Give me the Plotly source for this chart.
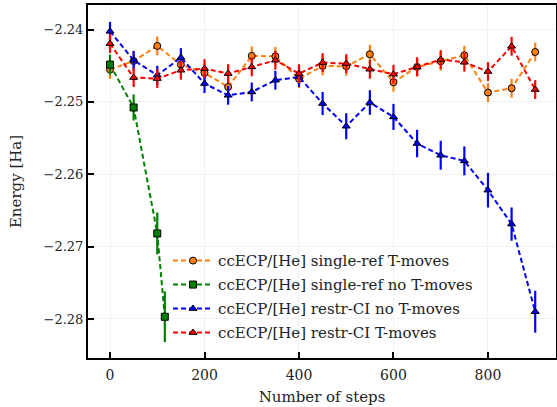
import plotly.graph_objects as go

# Steps
steps = [0, 50, 100, 150, 200, 250, 300, 350, 400, 450,
         500, 550, 600, 650, 700, 750, 800, 850, 900]
steps_noT = [0, 50, 100, 116]

# single-ref T-moves
e_sr_T = [-2.24553, -2.24434, -2.24226, -2.24484, -2.24599, -2.24793, -2.24364,
          -2.24369, -2.24680, -2.24503, -2.24507, -2.24341, -2.24728, -2.24516,
          -2.24438, -2.24355, -2.24870, -2.24811, -2.24309]
err_sr_T = [0.0013] * 19

# single-ref no T-moves
e_sr_noT = [-2.24484, -2.25077, -2.26818, -2.27970]
err_sr_noT = [0.0014, 0.0018, 0.0029, 0.0035]

# restr-CI no T-moves
e_ci_noT = [-2.24024, -2.24424, -2.24631, -2.24387, -2.24746, -2.24908, -2.24862,
            -2.24700, -2.24655, -2.25022, -2.25336, -2.25008, -2.25207, -2.25575,
            -2.25737, -2.25815, -2.26220, -2.26689, -2.27900]
err_ci_noT = [0.0013, 0.0013, 0.0013, 0.0013, 0.0013, 0.0013, 0.0013, 0.0013,
              0.0014, 0.0016, 0.0018, 0.0017, 0.0018, 0.0019, 0.0020, 0.0020,
              0.0024, 0.0023, 0.0029]

# restr-CI T-moves
e_ci_T = [-2.24194, -2.24663, -2.24677, -2.24562, -2.24539, -2.24608, -2.24516,
          -2.24424, -2.24608, -2.24456, -2.24470, -2.24548, -2.24617, -2.24516,
          -2.24414, -2.24452, -2.24580, -2.24231, -2.24829]
err_ci_T = [0.0013] * 19

x_ticks = [0, 200, 400, 600, 800]
y_ticks = [-2.24, -2.25, -2.26, -2.27, -2.28]
y_ticktext = ["\u22122.24", "\u22122.25", "\u22122.26", "\u22122.27", "\u22122.28"]

FONT = "DejaVu Serif, Liberation Serif, serif"

series = [
    ("ccECP/[He] single-ref T-moves", steps, e_sr_T, err_sr_T, "#ff7f0e", "circle"),
    ("ccECP/[He] single-ref no T-moves", steps_noT, e_sr_noT, err_sr_noT, "#008000", "square"),
    ("ccECP/[He] restr-CI no T-moves", steps, e_ci_noT, err_ci_noT, "#0000ff", "triangle-up"),
    ("ccECP/[He] restr-CI T-moves", steps, e_ci_T, err_ci_T, "#ff0000", "triangle-up"),
]

fig = go.Figure()
for name, xs, ys, errs, color, symbol in series:
    fig.add_trace(
        go.Scatter(x=xs, y=ys, name=name, legendgroup=name, mode="lines+markers",
                   line=dict(color=color, width=2, dash="5px,3px"),
                   marker=dict(symbol=symbol, size=7, color=color,
                               line=dict(color="black", width=1)),
                   error_y=dict(type="data", array=errs, visible=True,
                                color=color, thickness=2.2, width=0)))

axis_style = dict(showline=True, linecolor="black", linewidth=2, mirror=True,
                  ticks="inside", ticklen=6, tickwidth=1.5, tickcolor="black",
                  showgrid=True, gridcolor="#f2f2f2", gridwidth=1,
                  zeroline=False, automargin=False)

fig.update_xaxes(range=[-46.6, 944], tickvals=x_ticks, ticklabelstandoff=3,
                 tickfont=dict(family=FONT, size=14, color="#222"),
                 title=dict(text="Number of steps", font=dict(family=FONT, size=15, color="#222"),
                            standoff=10),
                 **axis_style)
fig.update_yaxes(range=[-2.2854, -2.2366], tickvals=y_ticks, ticktext=y_ticktext,
                 tickfont=dict(family=FONT, size=13, color="#222"),
                 title=dict(text="Energy [Ha]", font=dict(family=FONT, size=15, color="#222"),
                            standoff=18),
                 **axis_style)

fig.update_layout(
    width=557, height=407,
    margin=dict(l=88, r=1, t=5, b=49),
    plot_bgcolor="white", paper_bgcolor="white",
    showlegend=True,
    legend=dict(x=0.171, y=0.322, xanchor="left", yanchor="top",
                bgcolor="rgba(0,0,0,0)", font=dict(family=FONT, size=15, color="#222"),
                tracegroupgap=1.5, itemwidth=40),
)

fig.write_html("out.html", config={"displayModeBar": False},
               post_script="document.body.style.margin='0';")
